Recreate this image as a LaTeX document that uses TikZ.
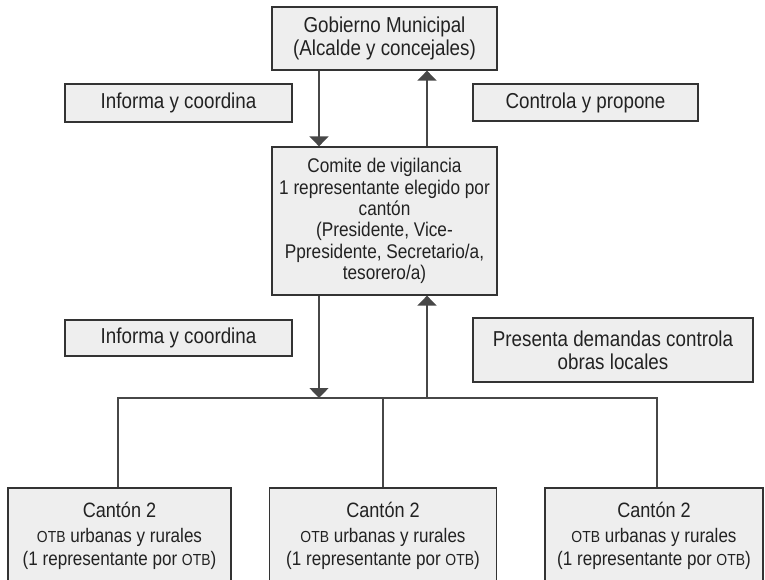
\documentclass[tikz,border=0pt]{standalone}
\usepackage{fontspec}
\setmainfont[FakeStretch=0.87]{Liberation Sans}
\usepackage{tikz}
\usetikzlibrary{arrows.meta}

\definecolor{boxfill}{HTML}{EEEEEE}
\definecolor{boxline}{HTML}{333333}
\definecolor{txt}{HTML}{222222}

\tikzset{
	orgbox/.style={rectangle, draw=boxline, fill=boxfill, line width=1.3pt,
		text=txt, align=center, inner sep=0pt, font=\fontsize{21.6}{23}\selectfont},
	smallbox/.style={orgbox, font=\fontsize{19.8}{21.3}\selectfont},
	cantonbox/.style={orgbox, font=\fontsize{19.6}{23.5}\selectfont},
	conn/.style={draw=boxline!90, line width=1.5pt},
	flow/.style={conn, -{Triangle[width=19pt,length=10pt]}}
}

\newcommand{\otb}{{\fontsize{16}{22}\selectfont OTB}}
\newcommand{\canton}{{\fontsize{20.8}{23.5}\selectfont Cantón 2}}

\begin{document}
\begin{tikzpicture}[x=1pt,y=-1pt]

	\useasboundingbox (0,0) rectangle (765,580);

	%upper levels
	\node[orgbox, minimum width=225pt, minimum height=63pt] (gob) at (384.5,38.5)
		{Gobierno Municipal\\(Alcalde y concejales)};
	\node[orgbox, minimum width=227pt, minimum height=38pt] (inf1) at (178.5,103)
		{Informa y coordina};
	\node[orgbox, minimum width=225pt, minimum height=37pt] (ctrl) at (585.5,102.5)
		{Controla y propone};
	\node[smallbox, minimum width=225pt, minimum height=148pt] (com) at (384.5,221)
		{Comite de vigilancia\\1 representante elegido por\\cantón\\(Presidente, Vice-\\Ppresidente, Secretario/a,\\tesorero/a)};
	\node[orgbox, minimum width=227pt, minimum height=36pt] (inf2) at (178.5,338)
		{Informa y coordina};
	\node[orgbox, minimum width=280pt, minimum height=64pt] (pres) at (613,350)
		{Presenta demandas controla\\obras locales};

	%cantones
	\node[cantonbox, minimum width=223pt, minimum height=96pt] (c1) at (119.5,536)
		{\canton\\[1pt]\otb{} urbanas y rurales\\(1 representante por \otb)};
	\node[cantonbox, minimum width=227pt, minimum height=96pt] (c2) at (383,536)
		{\canton\\[1pt]\otb{} urbanas y rurales\\(1 representante por \otb)};
	\node[cantonbox, minimum width=218pt, minimum height=96pt] (c3) at (654,536)
		{\canton\\[1pt]\otb{} urbanas y rurales\\(1 representante por \otb)};

	\coordinate (dn) at (319,0);
	\coordinate (up) at (427,0);
	\coordinate (bus) at (0,398);

	\draw[flow] (gob.south -| dn) -- (com.north -| dn);
	\draw[flow] (com.north -| up) -- (gob.south -| up);
	\draw[flow] (com.south -| dn) -- (bus -| dn);
	\draw[flow] (bus -| up) -- (com.south -| up);

	\draw[conn] (c1.north -| 118,0) -- (bus -| 118,0) -- (bus -| 657,0) -- (c3.north -| 657,0);
	\draw[conn] (bus -| c2.north) -- (c2.north);

\end{tikzpicture}
\end{document}
